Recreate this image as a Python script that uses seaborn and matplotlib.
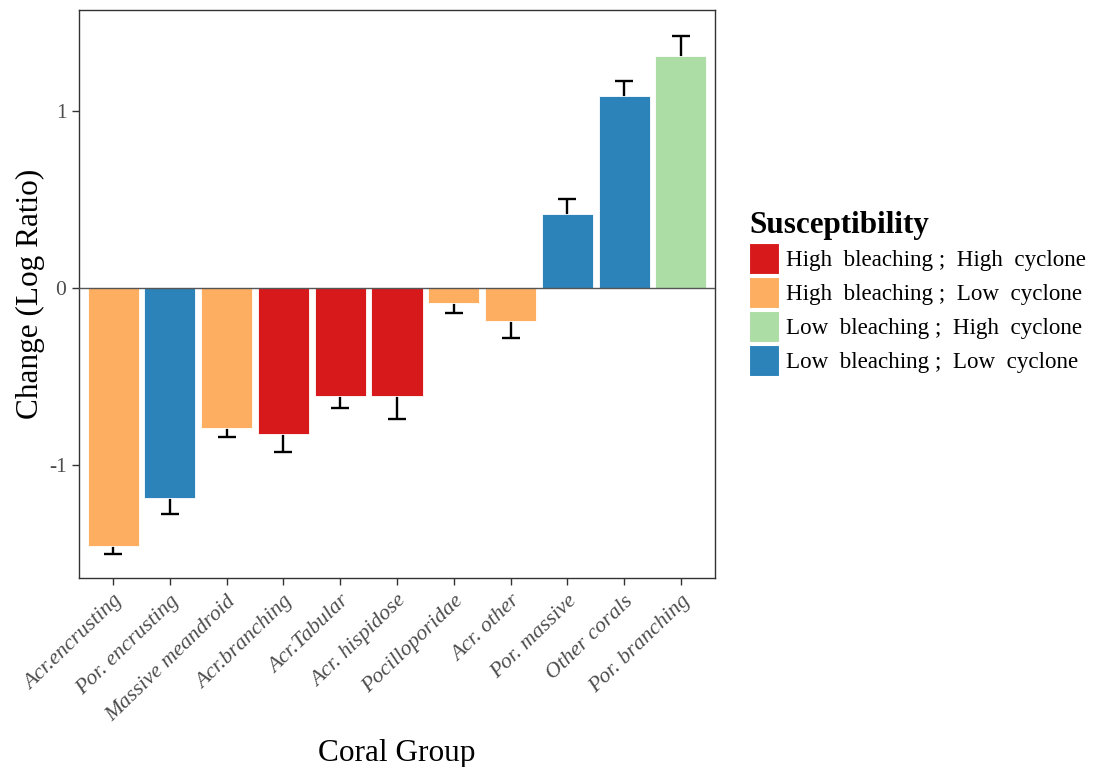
import matplotlib
matplotlib.use("Agg")
import matplotlib.pyplot as plt
import matplotlib.patches as mpatches
import seaborn as sns
import pandas as pd

# Coral groups in display order with mean log-ratio change and standard error
groups = ["Acr.encrusting", "Por. encrusting", "Massive meandroid", "Acr.branching",
          "Acr.Tabular", "Acr. hispidose", "Pocilloporidae", "Acr. other",
          "Por. massive", "Other corals", "Por. branching"]
change = [-1.46, -1.185, -0.79, -0.825, -0.61, -0.61, -0.085, -0.185, 0.42, 1.085, 1.31]
se = [0.045, 0.09, 0.05, 0.10, 0.065, 0.13, 0.055, 0.095, 0.085, 0.085, 0.115]
susceptibility = ["High  bleaching ;  Low  cyclone", "Low  bleaching ;  Low  cyclone",
                  "High  bleaching ;  Low  cyclone", "High  bleaching ;  High  cyclone",
                  "High  bleaching ;  High  cyclone", "High  bleaching ;  High  cyclone",
                  "High  bleaching ;  Low  cyclone", "High  bleaching ;  Low  cyclone",
                  "Low  bleaching ;  Low  cyclone", "Low  bleaching ;  Low  cyclone",
                  "Low  bleaching ;  High  cyclone"]

levels = ["High  bleaching ;  High  cyclone", "High  bleaching ;  Low  cyclone",
          "Low  bleaching ;  High  cyclone", "Low  bleaching ;  Low  cyclone"]
level_colors = ["#D7191C", "#FDAE61", "#ABDDA4", "#2B83BA"]

df = pd.DataFrame({"group": groups, "change": change, "se": se, "susc": susceptibility})

sns.set_theme(style="white")
plt.rcParams["font.family"] = ["Liberation Serif", "DejaVu Serif"]

fig = plt.figure(figsize=(10.94, 7.67), dpi=100)
ax = fig.add_axes([79 / 1094, 1 - 578 / 767, (715 - 79) / 1094, (578 - 10) / 767])

# error bars sit behind the bars so only the outward half shows
ax.errorbar(range(len(groups)), change, yerr=se, fmt="none", ecolor="black",
            elinewidth=1.7, capsize=6.5, capthick=1.7, zorder=1)

sns.barplot(data=df, x="group", y="change", hue="susc", hue_order=levels,
            palette=dict(zip(levels, level_colors)), dodge=False, width=0.9,
            saturation=1, edgecolor="white", linewidth=0.6, legend=False,
            ax=ax, zorder=2)
for p in ax.patches:
    p.set_zorder(2)

ax.axhline(0, color="#555555", linewidth=1.0, zorder=3)

ax.set_xlim(-0.6, 10.6)
ax.set_ylim(-1.638, 1.571)
ax.set_yticks([-1, 0, 1])
ax.set_yticklabels(["-1", "0", "1"])

for s in ax.spines.values():
    s.set_color("#333333")
    s.set_linewidth(1.0)

ax.tick_params(axis="both", which="major", length=5, width=1.0, color="#333333",
               bottom=True, left=True)
ax.tick_params(axis="y", labelsize=15.5, labelcolor="#4D4D4D", pad=4)
ax.tick_params(axis="x", labelsize=15.8, labelcolor="#4D4D4D", pad=5)
plt.setp(ax.get_xticklabels(), rotation=44, ha="right", rotation_mode="anchor",
         style="italic")

ax.set_xlabel("Coral Group", fontsize=22.5, color="black", labelpad=10)
ax.set_ylabel("Change (Log Ratio)", fontsize=22.5, color="black", labelpad=3)

handles = [mpatches.Patch(facecolor=c, edgecolor="white", linewidth=0.8) for c in level_colors]
leg = fig.legend(handles, levels, loc="upper left",
                 bbox_to_anchor=(740 / 1094, 1 - 202 / 767),
                 frameon=False, fontsize=16.6, title="Susceptibility",
                 title_fontproperties={"weight": "bold", "size": 22.4},
                 handlelength=1.3, handleheight=1.69, labelspacing=0.13,
                 handletextpad=0.3, borderaxespad=0, alignment="left",
                 labelcolor="black")
leg.get_title().set_color("black")

fig.savefig("out.png", dpi=100)
